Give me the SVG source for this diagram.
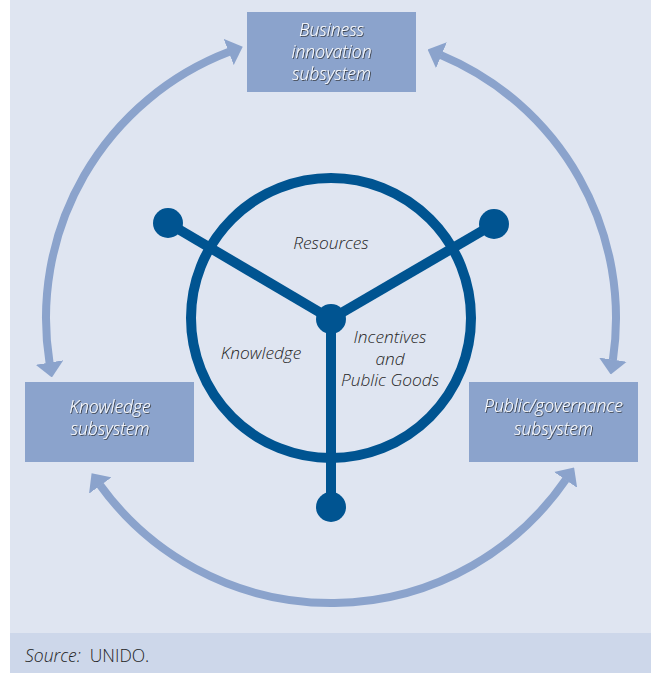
<svg xmlns="http://www.w3.org/2000/svg" width="651" height="673" viewBox="0 0 651 673">
<style>
.box{fill:#8ba3cc}
.boxtxt{font-family:"Open Sans","Liberation Sans",sans-serif;font-style:italic;font-weight:300;font-size:17.5px;fill:#ffffff;text-anchor:middle;filter:url(#sh)}
.lbl{font-family:"Open Sans","Liberation Sans",sans-serif;font-style:italic;font-weight:300;font-size:17.3px;fill:#262626;text-anchor:middle}
.arc{fill:none;stroke:#8ba3cc;stroke-width:8;marker-start:url(#ah);marker-end:url(#ah)}
.dk{stroke:#005491;stroke-width:10;fill:none}
.dot{fill:#005491}
</style>
<defs>
<filter id="sh" x="-10%" y="-30%" width="120%" height="160%">
<feDropShadow dx="0.9" dy="0.9" stdDeviation="0.35" flood-color="#2a2a2a" flood-opacity="0.85"/>
</filter>
<marker id="ah" viewBox="0 -14 15 28" markerWidth="15" markerHeight="28" refX="0.5" refY="0" orient="auto-start-reverse" markerUnits="userSpaceOnUse">
<path d="M0,-14 L15,0 L0,14 Z" fill="#8ba3cc"/>
</marker>
</defs>
<rect x="0" y="0" width="651" height="673" fill="#ffffff"/>
<rect x="10" y="0" width="641" height="633" fill="#dfe5f1"/>
<rect x="10" y="633" width="641" height="40" fill="#cdd7ea"/>
<g id="connectors">
<path class="arc" d="M49.59,363.07 A285,285 0 0 1 229.18,51.81"/>
<path class="arc" d="M440.98,55.08 A285,285 0 0 1 612.87,360.13"/>
<path class="arc" d="M565.88,479.43 A285,285 0 0 1 100.12,485.08"/>
</g>
<g id="hub">
<circle class="dk" cx="331" cy="318" r="140"/>
<line class="dk" x1="331" y1="319" x2="168" y2="223"/>
<line class="dk" x1="331" y1="319" x2="494" y2="224"/>
<line class="dk" x1="331" y1="319" x2="331" y2="507"/>
<circle class="dot" cx="331" cy="319" r="15"/>
<circle class="dot" cx="168" cy="223" r="15"/>
<circle class="dot" cx="494" cy="224" r="15"/>
<circle class="dot" cx="331" cy="507" r="15"/>
<text class="lbl" x="331" y="249">Resources</text>
<text class="lbl" x="261" y="359">Knowledge</text>
<text class="lbl" x="390" y="343">Incentives</text>
<text class="lbl" x="390" y="365">and</text>
<text class="lbl" x="390" y="386">Public Goods</text>
</g>
<g id="business">
<rect class="box" x="247" y="12" width="169" height="80"/>
<text class="boxtxt" x="331.5" y="36">Business</text>
<text class="boxtxt" x="331.5" y="58">innovation</text>
<text class="boxtxt" x="331.5" y="80">subsystem</text>
</g>
<g id="knowledge">
<rect class="box" x="25" y="382" width="169" height="80"/>
<text class="boxtxt" x="110" y="413">Knowledge</text>
<text class="boxtxt" x="110" y="435">subsystem</text>
</g>
<g id="public">
<rect class="box" x="469" y="382" width="169" height="80"/>
<text class="boxtxt" x="553.5" y="412">Public/governance</text>
<text class="boxtxt" x="553.5" y="435">subsystem</text>
</g>
<text x="25" y="662" font-family="Open Sans, Liberation Sans, sans-serif" font-weight="300" font-size="17.5" fill="#1e1e1e" xml:space="preserve"><tspan font-style="italic">Source:</tspan>  UNIDO.</text>
</svg>
